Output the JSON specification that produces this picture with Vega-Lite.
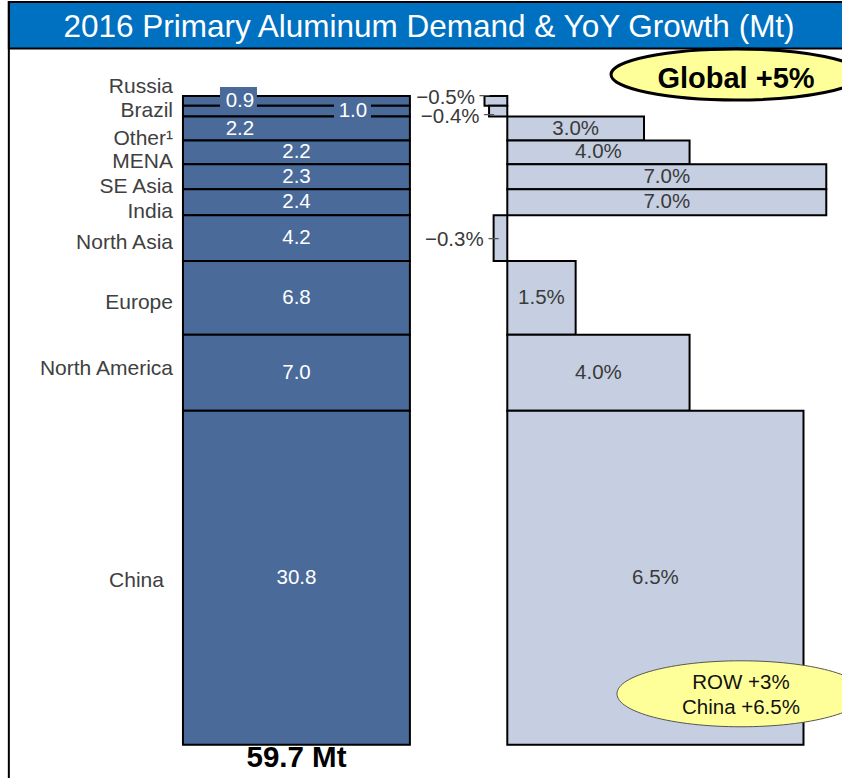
{
  "$schema": "https://vega.github.io/schema/vega-lite/v6.json",
  "width": 842,
  "height": 778,
  "padding": 0,
  "autosize": {"type": "none"},
  "background": "white",
  "config": {
    "view": {"stroke": null},
    "axis": {"disable": true, "domain": false, "ticks": false, "labels": false, "grid": false},
    "text": {"font": "Liberation Sans"}
  },
  "layer": [
    {
      "data": {"values": [{}]},
      "mark": {"type": "rect", "fill": "#0070c0", "stroke": "#000000", "strokeWidth": 2},
      "encoding": {
        "x": {"datum": -0.10938, "type": "quantitative", "axis": null, "scale": {"domain": [-0.11132, 0.07345], "range": [0, 842], "nice": false, "zero": false}},
        "x2": {"datum": 0.0861, "type": "quantitative"},
        "y": {"datum": -8.664, "type": "quantitative", "axis": null, "scale": {"domain": [-8.848, 62.858], "range": [0, 778], "nice": false, "zero": false}},
        "y2": {"datum": -4.378, "type": "quantitative"}
      }
    },
    {
      "data": {"values": [{}]},
      "mark": {"type": "rect", "fillOpacity": 0, "stroke": "#000000", "strokeWidth": 2},
      "encoding": {
        "x": {"datum": -0.10938, "type": "quantitative", "axis": null},
        "x2": {"datum": 0.0861, "type": "quantitative"},
        "y": {"datum": -8.664, "type": "quantitative", "axis": null},
        "y2": {"datum": 64, "type": "quantitative"}
      }
    },
    {
      "data": {"values": [{}]},
      "mark": {"type": "text", "text": "2016 Primary Aluminum Demand & YoY Growth (Mt)", "fontSize": 31.5, "color": "#ffffff", "align": "center", "baseline": "alphabetic"},
      "encoding": {
        "x": {"datum": -0.01718, "type": "quantitative", "axis": null},
        "y": {"datum": -5.438, "type": "quantitative", "axis": null}
      }
    },
    {
      "data": {
        "values": [
          {"region": "Russia", "order": 1, "demand": 0.9, "growth": -0.005},
          {"region": "Brazil", "order": 2, "demand": 1.0, "growth": -0.004},
          {"region": "Other¹", "order": 3, "demand": 2.2, "growth": 0.03},
          {"region": "MENA", "order": 4, "demand": 2.2, "growth": 0.04},
          {"region": "SE Asia", "order": 5, "demand": 2.3, "growth": 0.07},
          {"region": "India", "order": 6, "demand": 2.4, "growth": 0.07},
          {"region": "North Asia", "order": 7, "demand": 4.2, "growth": -0.003},
          {"region": "Europe", "order": 8, "demand": 6.8, "growth": 0.015},
          {"region": "North America", "order": 9, "demand": 7.0, "growth": 0.04},
          {"region": "China", "order": 10, "demand": 30.8, "growth": 0.065}
        ]
      },
      "transform": [
        {"window": [{"op": "sum", "field": "demand", "as": "y1"}], "sort": [{"field": "order", "order": "ascending"}], "frame": [null, 0]},
        {"calculate": "datum.y1 - datum.demand", "as": "y0"},
        {"calculate": "(datum.y0 + datum.y1) / 2", "as": "ymid"},
        {"calculate": "datum.growth / 2", "as": "xmid"}
      ],
      "layer": [
        {
          "mark": {"type": "rect", "fill": "#4a6a9a", "stroke": "#000000", "strokeWidth": 2},
          "encoding": {
            "x": {"datum": -0.07117, "type": "quantitative", "axis": null},
            "x2": {"datum": -0.02137, "type": "quantitative"},
            "y": {"field": "y0", "type": "quantitative", "axis": null},
            "y2": {"field": "y1"}
          }
        },
        {
          "mark": {"type": "rect", "fill": "#c5cfe1", "stroke": "#000000", "strokeWidth": 2},
          "encoding": {
            "x": {"field": "growth", "type": "quantitative", "axis": null},
            "x2": {"datum": 0, "type": "quantitative"},
            "y": {"field": "y0", "type": "quantitative", "axis": null},
            "y2": {"field": "y1"}
          }
        },
        {
          "transform": [{"filter": "datum.region === 'Russia'"}],
          "mark": {"type": "point", "shape": "M-1,-0.5676H1V0.5676H-1Z", "size": 1369, "filled": true, "fill": "#4a6a9a", "strokeWidth": 0, "opacity": 1},
          "encoding": {
            "x": {"datum": -0.05899, "type": "quantitative", "axis": null},
            "y": {"datum": 0.138, "type": "quantitative", "axis": null}
          }
        },
        {
          "transform": [{"filter": "datum.region === 'Brazil'"}],
          "mark": {"type": "point", "shape": "M-1,-0.4054H1V0.4054H-1Z", "size": 1369, "filled": true, "fill": "#4a6a9a", "strokeWidth": 0, "opacity": 1},
          "encoding": {
            "x": {"datum": -0.03397, "type": "quantitative", "axis": null},
            "y": {"datum": 1.405, "type": "quantitative", "axis": null}
          }
        },
        {
          "transform": [{"filter": "datum.region === 'Russia'"}],
          "mark": {"type": "text", "fontSize": 21, "color": "#404040", "align": "right", "baseline": "alphabetic", "dy": -8},
          "encoding": {"x": {"datum": -0.07336, "type": "quantitative", "axis": null}, "y": {"field": "ymid", "type": "quantitative", "axis": null}, "text": {"field": "region", "type": "nominal"}}
        },
        {
          "transform": [{"filter": "datum.region === 'Brazil'"}],
          "mark": {"type": "text", "fontSize": 21, "color": "#404040", "align": "right", "baseline": "alphabetic", "dy": 6},
          "encoding": {"x": {"datum": -0.07336, "type": "quantitative", "axis": null}, "y": {"field": "ymid", "type": "quantitative", "axis": null}, "text": {"field": "region", "type": "nominal"}}
        },
        {
          "transform": [{"filter": {"field": "region", "oneOf": ["Other¹", "MENA", "SE Asia", "India"]}}],
          "mark": {"type": "text", "fontSize": 21, "color": "#404040", "align": "right", "baseline": "alphabetic", "dy": 16},
          "encoding": {"x": {"datum": -0.07336, "type": "quantitative", "axis": null}, "y": {"field": "ymid", "type": "quantitative", "axis": null}, "text": {"field": "region", "type": "nominal"}}
        },
        {
          "transform": [{"filter": {"field": "region", "oneOf": ["North Asia", "Europe"]}}],
          "mark": {"type": "text", "fontSize": 21, "color": "#404040", "align": "right", "baseline": "alphabetic", "dy": 11},
          "encoding": {"x": {"datum": -0.07336, "type": "quantitative", "axis": null}, "y": {"field": "ymid", "type": "quantitative", "axis": null}, "text": {"field": "region", "type": "nominal"}}
        },
        {
          "transform": [{"filter": "datum.region === 'North America'"}],
          "mark": {"type": "text", "fontSize": 21, "color": "#404040", "align": "right", "baseline": "alphabetic", "dy": 2},
          "encoding": {"x": {"datum": -0.07336, "type": "quantitative", "axis": null}, "y": {"field": "ymid", "type": "quantitative", "axis": null}, "text": {"field": "region", "type": "nominal"}}
        },
        {
          "transform": [{"filter": "datum.region === 'China'"}],
          "mark": {"type": "text", "fontSize": 21, "color": "#404040", "align": "right", "baseline": "alphabetic", "dy": 9, "dx": -9},
          "encoding": {"x": {"datum": -0.07336, "type": "quantitative", "axis": null}, "y": {"field": "ymid", "type": "quantitative", "axis": null}, "text": {"field": "region", "type": "nominal"}}
        },
        {
          "transform": [{"filter": "datum.region !== 'Russia' && datum.region !== 'Brazil' && datum.region !== 'Other¹'"}],
          "mark": {"type": "text", "fontSize": 20.5, "color": "#ffffff", "align": "center", "baseline": "middle"},
          "encoding": {"x": {"datum": -0.04626, "type": "quantitative", "axis": null}, "y": {"field": "ymid", "type": "quantitative", "axis": null}, "text": {"field": "demand", "type": "quantitative", "format": ".1f"}}
        },
        {
          "transform": [{"filter": "datum.region === 'Russia' || datum.region === 'Other¹'"}],
          "mark": {"type": "text", "fontSize": 20.5, "color": "#ffffff", "align": "center", "baseline": "middle"},
          "encoding": {"x": {"datum": -0.05866, "type": "quantitative", "axis": null}, "y": {"field": "ymid", "type": "quantitative", "axis": null}, "text": {"field": "demand", "type": "quantitative", "format": ".1f"}}
        },
        {
          "transform": [{"filter": "datum.region === 'Brazil'"}],
          "mark": {"type": "text", "fontSize": 20.5, "color": "#ffffff", "align": "center", "baseline": "middle"},
          "encoding": {"x": {"datum": -0.03387, "type": "quantitative", "axis": null}, "y": {"field": "ymid", "type": "quantitative", "axis": null}, "text": {"field": "demand", "type": "quantitative", "format": ".1f"}}
        },
        {
          "transform": [{"filter": "datum.growth > 0"}],
          "mark": {"type": "text", "fontSize": 20.5, "color": "#3a3a3a", "align": "center", "baseline": "middle"},
          "encoding": {"x": {"field": "xmid", "type": "quantitative", "axis": null}, "y": {"field": "ymid", "type": "quantitative", "axis": null}, "text": {"field": "growth", "type": "quantitative", "format": ".1%"}}
        },
        {
          "transform": [{"filter": "datum.region === 'Russia'"}],
          "mark": {"type": "text", "fontSize": 20.5, "color": "#3a3a3a", "align": "right", "baseline": "middle", "dx": -9.5, "dy": -3},
          "encoding": {"x": {"field": "growth", "type": "quantitative", "axis": null}, "y": {"field": "ymid", "type": "quantitative", "axis": null}, "text": {"field": "growth", "type": "quantitative", "format": ".1%"}}
        },
        {
          "transform": [{"filter": "datum.region === 'Russia'"}],
          "mark": {"type": "text", "text": "–", "fontSize": 18, "color": "#555555", "align": "center", "baseline": "middle", "dy": -6},
          "encoding": {"x": {"field": "growth", "type": "quantitative", "axis": null}, "y": {"field": "ymid", "type": "quantitative", "axis": null}}
        },
        {
          "transform": [{"filter": "datum.region === 'Brazil'"}],
          "mark": {"type": "text", "fontSize": 20.5, "color": "#3a3a3a", "align": "right", "baseline": "middle", "dx": -9.5, "dy": 5.5},
          "encoding": {"x": {"field": "growth", "type": "quantitative", "axis": null}, "y": {"field": "ymid", "type": "quantitative", "axis": null}, "text": {"field": "growth", "type": "quantitative", "format": ".1%"}}
        },
        {
          "transform": [{"filter": "datum.region === 'Brazil'"}],
          "mark": {"type": "text", "text": "–", "fontSize": 18, "color": "#555555", "align": "center", "baseline": "middle", "dy": 3},
          "encoding": {"x": {"field": "growth", "type": "quantitative", "axis": null}, "y": {"field": "ymid", "type": "quantitative", "axis": null}}
        },
        {
          "transform": [{"filter": "datum.region === 'North Asia'"}],
          "mark": {"type": "text", "fontSize": 20.5, "color": "#3a3a3a", "align": "right", "baseline": "middle", "dx": -10, "dy": 1.5},
          "encoding": {"x": {"field": "growth", "type": "quantitative", "axis": null}, "y": {"field": "ymid", "type": "quantitative", "axis": null}, "text": {"field": "growth", "type": "quantitative", "format": ".1%"}}
        },
        {
          "transform": [{"filter": "datum.region === 'North Asia'"}],
          "mark": {"type": "text", "text": "–", "fontSize": 18, "color": "#555555", "align": "center", "baseline": "middle", "dy": 0},
          "encoding": {"x": {"field": "growth", "type": "quantitative", "axis": null}, "y": {"field": "ymid", "type": "quantitative", "axis": null}}
        }
      ]
    },
    {
      "data": {"values": [{}]},
      "mark": {"type": "point", "shape": "M-1,0A1,0.266,0,1,0,1,0A1,0.266,0,1,0,-1,0Z", "size": 61504, "filled": true, "fill": "#ffff99", "stroke": "#555555", "strokeWidth": 1, "opacity": 1},
      "encoding": {
        "x": {"datum": 0.05128, "type": "quantitative", "axis": null},
        "y": {"datum": 55.096, "type": "quantitative", "axis": null}
      }
    },
    {
      "data": {"values": [{}]},
      "mark": {"type": "text", "text": ["ROW +3%", "China +6.5%"], "lineHeight": 25, "fontSize": 20.5, "color": "#111111", "align": "center", "baseline": "alphabetic"},
      "encoding": {
        "x": {"datum": 0.05128, "type": "quantitative", "axis": null},
        "y": {"datum": 54.654, "type": "quantitative", "axis": null}
      }
    },
    {
      "data": {"values": [{}]},
      "mark": {"type": "point", "shape": "M-1,0A1,0.204,0,1,0,1,0A1,0.204,0,1,0,-1,0Z", "size": 62500, "filled": true, "fill": "#ffff99", "stroke": "#000000", "strokeWidth": 3, "opacity": 1},
      "encoding": {
        "x": {"datum": 0.05019, "type": "quantitative", "axis": null},
        "y": {"datum": -1.982, "type": "quantitative", "axis": null}
      }
    },
    {
      "data": {"values": [{}]},
      "mark": {"type": "text", "text": "Global +5%", "fontSize": 29, "fontWeight": "bold", "color": "#000000", "align": "center", "baseline": "alphabetic"},
      "encoding": {
        "x": {"datum": 0.05019, "type": "quantitative", "axis": null},
        "y": {"datum": -0.737, "type": "quantitative", "axis": null}
      }
    },
    {
      "data": {"values": [{}]},
      "mark": {"type": "text", "text": "59.7 Mt", "fontSize": 29.5, "fontWeight": "bold", "color": "#000000", "align": "center", "baseline": "alphabetic"},
      "encoding": {
        "x": {"datum": -0.04626, "type": "quantitative", "axis": null},
        "y": {"datum": 61.814, "type": "quantitative", "axis": null}
      }
    }
  ]
}
